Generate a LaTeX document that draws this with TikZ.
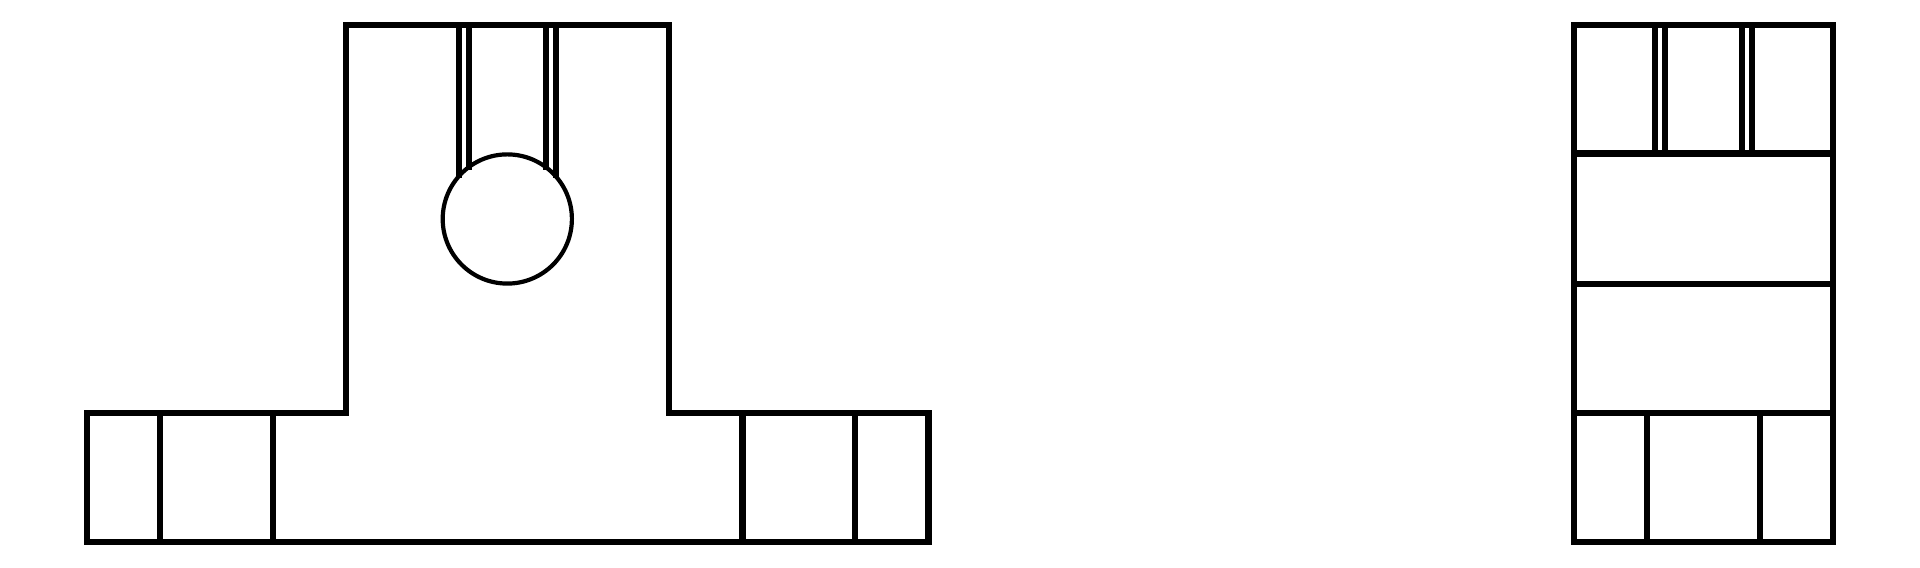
\documentclass[tikz,border=0pt]{standalone}
\usepackage{tikz}

\begin{document}
\begin{tikzpicture}[x=0.01cm,y=-0.01cm,
                    part line/.style={draw,black,line width=0.065cm},
                    bore line/.style={draw,black,line width=0.042cm}]

  \useasboundingbox (0,0) rectangle (1920,568);

  % front view
  \path[part line] (87,413) -- (346,413) -- (346,25) -- (669,25) -- (669,413)
    -- (928.3,413) -- (928.3,542) -- (87,542) -- cycle;
  \foreach \x in {160,273,742.5,855}
    \path[part line] (\x,413) -- (\x,542);
  \foreach \x/\y in {459/178,469/170,546/170,556/178}
    \path[part line] (\x,25) -- (\x,\y);
  \path[bore line] (507.3,219) circle [radius=64.6];

  % side view
  \path[part line] (1574,25) rectangle (1833,542);
  \foreach \y in {153.7,284,413}
    \path[part line] (1574,\y) -- (1833,\y);
  \foreach \x in {1655,1665,1742,1752}
    \path[part line] (\x,25) -- (\x,153.7);
  \foreach \x in {1647,1760}
    \path[part line] (\x,413) -- (\x,542);

\end{tikzpicture}
\end{document}
